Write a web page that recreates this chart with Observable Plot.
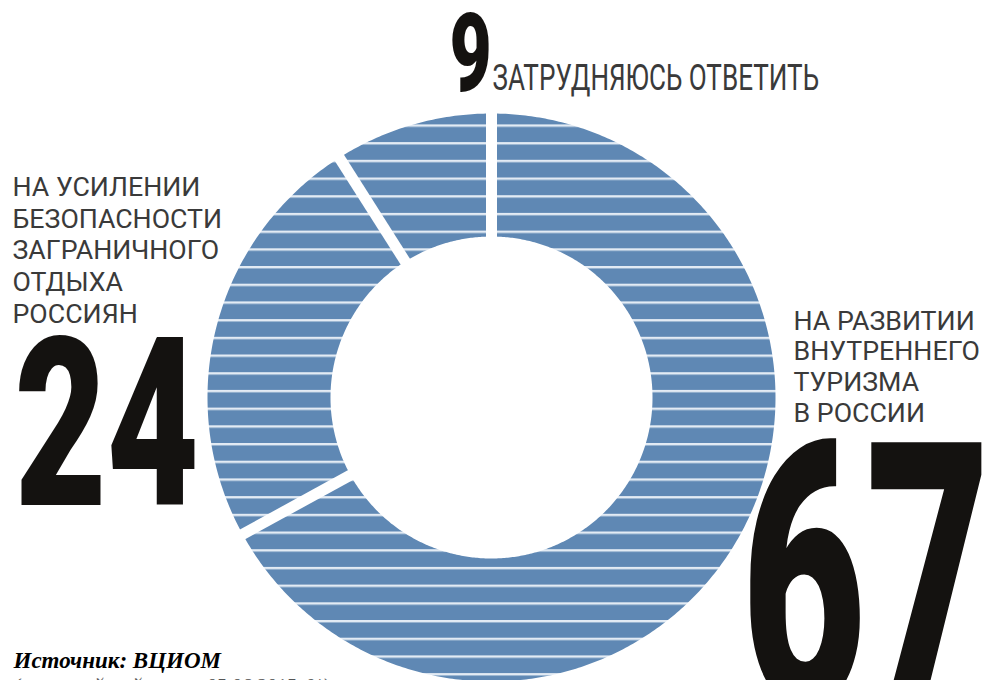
<!DOCTYPE html>
<html lang="ru">
<head>
<meta charset="utf-8">
<script src="https://cdn.jsdelivr.net/npm/d3@7"></script>
<script src="https://cdn.jsdelivr.net/npm/@observablehq/plot@0.6"></script>
<style>
  html, body { margin: 0; padding: 0; background: #fff; overflow: hidden; width: 1001px; height: 680px; }
  #chart svg { display: block; overflow: hidden; }
</style>
</head>
<body>
<div id="chart"></div>
<script>
// ---- data ----
const categories = [
  "На развитии внутреннего туризма в России",
  "На усилении безопасности заграничного отдыха россиян",
  "Затрудняюсь ответить"
];
const values = [67, 24, 9];
const labels = [
  "НА РАЗВИТИИ\nВНУТРЕННЕГО\nТУРИЗМА\nВ РОССИИ",
  "НА УСИЛЕНИИ\nБЕЗОПАСНОСТИ\nЗАГРАНИЧНОГО\nОТДЫХА\nРОССИЯН",
  "ЗАТРУДНЯЮСЬ ОТВЕТИТЬ"
];
const sourceText = "Источник: ВЦИОМ";
const noteText = "(всероссийский опрос, 05.06.2015, %)";

// ---- geometry of the ring (built from the values) ----
const cx = 491, cy = 397, R = 284;
const innerRatio = 161 / 284;
const total = d3.sum(values);
let acc = 0;
const slices = values.map((v, i) => {
  const a0 = acc / total * 2 * Math.PI;
  acc += v;
  const a1 = acc / total * 2 * Math.PI;
  return {key: categories[i], value: v, a0, a1};
});
const ringPoints = slices.flatMap(s => {
  const n = Math.max(8, Math.ceil((s.a1 - s.a0) / 0.01));
  const angles = d3.range(n + 1).map(k => s.a0 + (s.a1 - s.a0) * k / n);
  const outer = angles.map(a => ({key: s.key, x: Math.sin(a), y: Math.cos(a)}));
  const inner = angles.slice().reverse().map(a => ({key: s.key, x: innerRatio * Math.sin(a), y: innerRatio * Math.cos(a)}));
  return outer.concat(inner);
});

// stripe pattern definition
const defs = () => {
  const ns = "http://www.w3.org/2000/svg";
  const d = document.createElementNS(ns, "defs");
  const p = document.createElementNS(ns, "pattern");
  p.setAttribute("id", "stripes");
  p.setAttribute("patternUnits", "userSpaceOnUse");
  p.setAttribute("x", "0");
  p.setAttribute("y", "0");
  p.setAttribute("width", "20");
  p.setAttribute("height", "17.7");
  const bg = document.createElementNS(ns, "rect");
  bg.setAttribute("width", "20"); bg.setAttribute("height", "17.7"); bg.setAttribute("fill", "#5f88b4");
  const ln = document.createElementNS(ns, "rect");
  ln.setAttribute("width", "20"); ln.setAttribute("y", "0"); ln.setAttribute("height", "2.4"); ln.setAttribute("fill", "#e3ebf4");
  p.appendChild(bg); p.appendChild(ln); d.appendChild(p);
  return d;
};

const labelFont = "Roboto, 'DejaVu Sans', sans-serif";
const numFont = "Roboto, 'DejaVu Sans', sans-serif";

const chart = Plot.plot({
  width: 1001,
  height: 680,
  margin: 0,
  style: {background: "#fff", overflow: "hidden"},
  x: {domain: [-1, 1], range: [cx - R, cx + R], axis: null},
  y: {domain: [-1, 1], range: [cy + R, cy - R], axis: null},
  marks: [
    defs,
    Plot.line(ringPoints, {x: "x", y: "y", z: "key", fill: "url(#stripes)", stroke: "none", curve: "linear-closed"}),
    Plot.link(slices, {
      x1: s => innerRatio * 0.9 * Math.sin(s.a0), y1: s => innerRatio * 0.9 * Math.cos(s.a0),
      x2: s => 1.05 * Math.sin(s.a0), y2: s => 1.05 * Math.cos(s.a0),
      stroke: "#fff", strokeWidth: 11
    }),
    // labels
    Plot.text([labels[0]], {text: d => d, frameAnchor: "top-left", textAnchor: "start", lineAnchor: "top",
      dx: 793, dy: 307.1, fontSize: 25, lineHeight: 1.236, fontFamily: labelFont, fill: "#3a3a3a"}),
    Plot.text([labels[1]], {text: d => d, frameAnchor: "top-left", textAnchor: "start", lineAnchor: "top",
      dx: 12, dy: 172.9, fontSize: 25, lineHeight: 1.27, fontFamily: labelFont, fill: "#3a3a3a"}),
    Plot.text([labels[2]], {text: d => d, frameAnchor: "top-left", textAnchor: "start", lineAnchor: "top",
      dx: 492, dy: 64, fontSize: 36.5, fontFamily: labelFont, fill: "#3a3a3a"}),
    // big numbers
    Plot.text([values[0]], {text: d => String(d), frameAnchor: "top-left", textAnchor: "start", lineAnchor: "top",
      dx: 741, dy: 442, fontSize: 370, fontWeight: 900, fontFamily: numFont, fill: "#141210"}),
    Plot.text([values[1]], {text: d => String(d), frameAnchor: "top-left", textAnchor: "start", lineAnchor: "top",
      dx: 14, dy: 337, fontSize: 236, fontWeight: 900, fontFamily: numFont, fill: "#141210"}),
    Plot.text([values[2]], {text: d => String(d), frameAnchor: "top-left", textAnchor: "start", lineAnchor: "top",
      dx: 449, dy: 13.3, fontSize: 109, fontWeight: 900, fontFamily: numFont, fill: "#141210"}),
    // source
    Plot.text([sourceText], {text: d => d, frameAnchor: "top-left", textAnchor: "start", lineAnchor: "bottom",
      dx: 13, dy: 667, fontSize: 23, fontWeight: 700, fontStyle: "italic", fontFamily: "'Liberation Serif', 'Times New Roman', serif", fill: "#000"}),
    Plot.text([noteText], {text: d => d, frameAnchor: "top-left", textAnchor: "start", lineAnchor: "bottom",
      dx: 13, dy: 692, fontSize: 20, fontStyle: "italic", fontFamily: "'Liberation Serif', 'Times New Roman', serif", fill: "#555"})
  ]
});

// horizontal condensing of a text (matched by its content) around its anchor
function squeeze(content, sx, sy = 1) {
  const key = String(content).replace(/\n/g, "");
  chart.querySelectorAll("text").forEach(t => {
    if (t.textContent !== key) return;
    const tr = t.getAttribute("transform");
    const x = parseFloat(t.getAttribute("x")) || 0;
    const prev = tr ? tr + " " : "";
    t.setAttribute("transform", `${prev}translate(${x},0) scale(${sx},${sy}) translate(${-x},0)`);
  });
}
squeeze(labels[0], 1.07);
squeeze(labels[1], 1.07);
squeeze(labels[2], 0.715);
squeeze(values[0], 0.58);
squeeze(values[1], 0.675);
squeeze(values[2], 0.67);

document.getElementById("chart").appendChild(chart);
</script>
</body>
</html>
